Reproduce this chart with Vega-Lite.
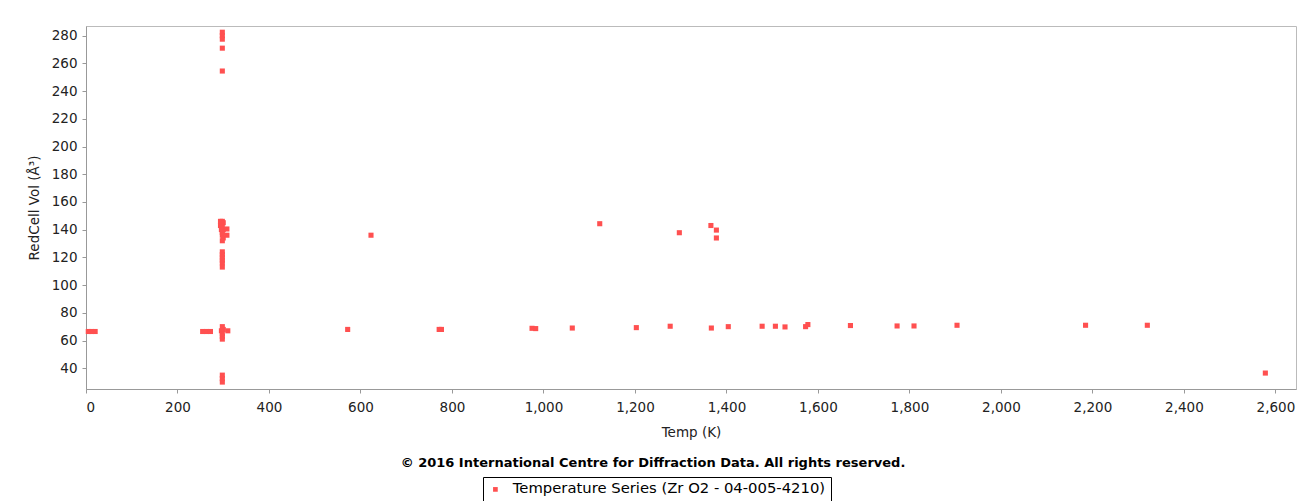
{
  "$schema": "https://vega.github.io/schema/vega-lite/v6.json",
  "autosize": "none",
  "width": 1210,
  "height": 363,
  "padding": {"left": 86, "top": 26, "right": 11, "bottom": 112},
  "background": "white",
  "title": {
    "text": "© 2016 International Centre for Diffraction Data. All rights reserved.",
    "orient": "bottom",
    "anchor": "middle",
    "dx": -38,
    "offset": -46,
    "font": "DejaVu Sans",
    "fontSize": 13,
    "fontWeight": "bold",
    "color": "#000000"
  },
  "config": {
    "view": {"stroke": "#bbbbbb", "strokeWidth": 1},
    "font": "DejaVu Sans",
    "axis": {
      "grid": false,
      "domainColor": "#999999",
      "tickColor": "#999999",
      "tickSize": 4,
      "labelFont": "DejaVu Sans",
      "labelFontSize": 13.5,
      "labelColor": "#222222",
      "titleFont": "DejaVu Sans",
      "titleFontSize": 13.5,
      "titleFontWeight": "normal",
      "titleColor": "#222222"
    }
  },
  "data": {
    "values": [
      {"T": 5, "V": 66.5}, {"T": 12, "V": 66.5}, {"T": 20, "V": 66.5},
      {"T": 255, "V": 66.5}, {"T": 263, "V": 66.5}, {"T": 272, "V": 66.5},
      {"T": 298, "V": 282.5}, {"T": 298, "V": 280}, {"T": 298, "V": 277.5},
      {"T": 298, "V": 271}, {"T": 298, "V": 254.5},
      {"T": 294, "V": 146}, {"T": 298, "V": 146}, {"T": 300, "V": 145}, {"T": 294, "V": 143},
      {"T": 298, "V": 142}, {"T": 300, "V": 140}, {"T": 296, "V": 140}, {"T": 298, "V": 138},
      {"T": 298, "V": 136}, {"T": 300, "V": 134}, {"T": 298, "V": 132},
      {"T": 308, "V": 140.5}, {"T": 308, "V": 136},
      {"T": 298, "V": 124}, {"T": 298, "V": 122}, {"T": 298, "V": 120}, {"T": 298, "V": 118},
      {"T": 298, "V": 116}, {"T": 298, "V": 113},
      {"T": 298, "V": 70}, {"T": 300, "V": 68}, {"T": 296, "V": 67}, {"T": 298, "V": 65},
      {"T": 298, "V": 63}, {"T": 298, "V": 61}, {"T": 310, "V": 67},
      {"T": 298, "V": 35}, {"T": 298, "V": 32.5}, {"T": 298, "V": 30},
      {"T": 572, "V": 68}, {"T": 623, "V": 136}, {"T": 772, "V": 68}, {"T": 777, "V": 68},
      {"T": 975, "V": 68.8}, {"T": 983, "V": 68.6}, {"T": 1063, "V": 69},
      {"T": 1123, "V": 144.3}, {"T": 1203, "V": 69.3}, {"T": 1277, "V": 70.3},
      {"T": 1297, "V": 137.8}, {"T": 1366, "V": 143}, {"T": 1378, "V": 139.7},
      {"T": 1378, "V": 134}, {"T": 1367, "V": 69}, {"T": 1404, "V": 70},
      {"T": 1478, "V": 70.3}, {"T": 1507, "V": 70.3}, {"T": 1528, "V": 69.8},
      {"T": 1573, "V": 70}, {"T": 1578, "V": 71.5}, {"T": 1671, "V": 70.8},
      {"T": 1773, "V": 70.5}, {"T": 1810, "V": 70.5}, {"T": 1904, "V": 71},
      {"T": 2185, "V": 71}, {"T": 2320, "V": 71}, {"T": 2578, "V": 36.5}
    ]
  },
  "mark": {"type": "point", "shape": "square", "filled": true, "opacity": 1, "size": 26},
  "encoding": {
    "x": {
      "field": "T",
      "type": "quantitative",
      "title": "Temp (K)",
      "scale": {"domain": [0, 2645], "nice": false, "zero": false},
      "axis": {"values": [0, 200, 400, 600, 800, 1000, 1200, 1400, 1600, 1800, 2000, 2200, 2400, 2600], "format": ",d", "labelPadding": 7, "titlePadding": 12}
    },
    "y": {
      "field": "V",
      "type": "quantitative",
      "title": "RedCell Vol (Å³)",
      "scale": {"domain": [25, 287], "nice": false, "zero": false},
      "axis": {"values": [40, 60, 80, 100, 120, 140, 160, 180, 200, 220, 240, 260, 280], "format": "d", "labelPadding": 5, "titlePadding": 10}
    },
    "color": {
      "datum": "Temperature Series (Zr O2 - 04-005-4210)",
      "type": "nominal",
      "scale": {"range": ["#ff5050"]},
      "legend": {
        "title": null,
        "orient": "none",
        "legendX": 397,
        "legendY": 451,
        "strokeColor": "#000000",
        "padding": 5,
        "symbolType": "square",
        "symbolSize": 22,
        "labelFont": "DejaVu Sans",
        "labelFontSize": 14.8,
        "labelColor": "#000000",
        "labelOffset": 10,
        "labelLimit": 0,
        "fillColor": "white"
      }
    }
  }
}
